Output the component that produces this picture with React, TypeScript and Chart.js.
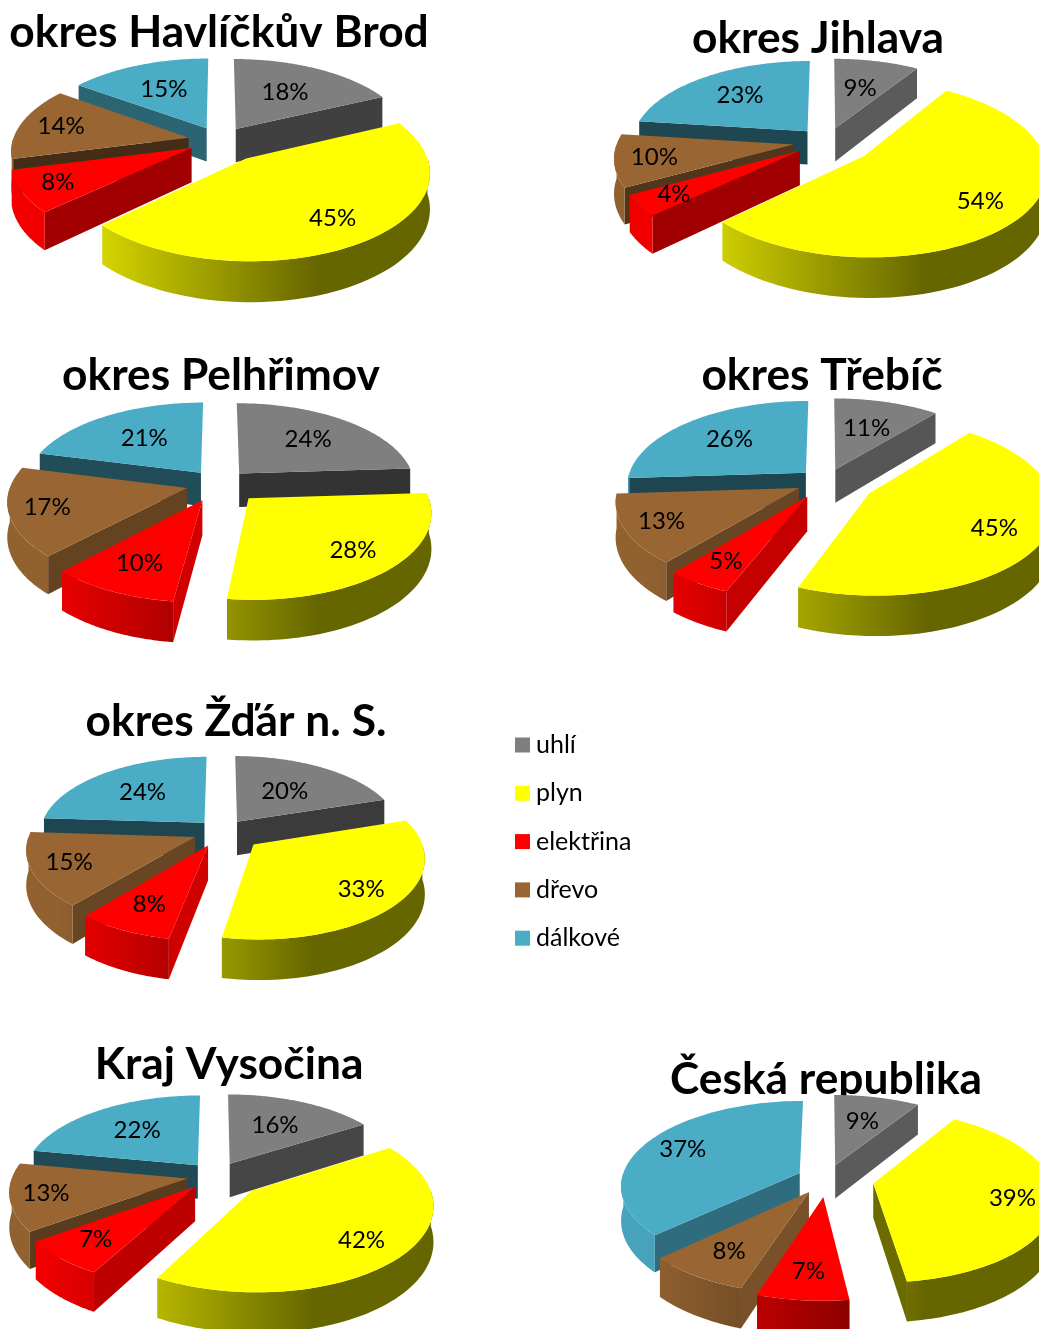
import React, { useEffect, useRef } from "react";
import { Chart, registerables } from "chart.js";

Chart.register(...registerables);

const categories = ["uhlí", "plyn", "elektřina", "dřevo", "dálkové"];
const colors = ["#7f7f7f", "#ffff00", "#ff0000", "#996633", "#4bacc6"];

const havlickuvBrod = [18, 45, 8, 14, 15];
const jihlava = [9, 54, 4, 10, 23];
const pelhrimov = [24, 28, 10, 17, 21];
const trebic = [11, 45, 5, 13, 26];
const zdar = [20, 33, 8, 15, 24];
const vysocina = [16, 42, 7, 13, 22];
const ceskaRepublika = [9, 39, 7, 8, 37];

const TILT = 0.47;
const PERSPECTIVE = 0.14;
const DEPTH = 34;
const FONT = "Lato, 'Open Sans', sans-serif";
const CANVAS = 520;
const TITLE_SIZE = 44.3;

const pies = [
  { title: "okres Havlíčkův Brod", values: havlickuvBrod, offset: [30, 45, 32, 32, 30], reach: [0.58, 0.75, 0.8, 0.76, 0.6], radius: 176, center: [220, 141], titleAt: [219, 33] },
  { title: "okres Jihlava", values: jihlava, offset: [30, 47, 33, 34, 30], reach: [0.57, 0.76, 0.8, 0.78, 0.64], radius: 176, center: [827, 142], titleAt: [818, 39] },
  { title: "okres Pelhřimov", values: pelhrimov, offset: [30, 42, 38, 33, 30], reach: [0.63, 0.76, 0.72, 0.79, 0.58], radius: 176, center: [219, 484], titleAt: [221, 376] },
  { title: "okres Třebíč", values: trebic, offset: [28, 49, 36, 30, 28], reach: [0.58, 0.74, 0.77, 0.8, 0.64], radius: 179, center: [826, 482], titleAt: [822, 376] },
  { title: "okres Žďár n. S.", values: zdar, offset: [26, 41, 32, 29, 26], reach: [0.54, 0.77, 0.72, 0.78, 0.6], radius: 165, center: [222, 832], titleAt: [236, 722] },
  { title: "Kraj Vysočina", values: vysocina, offset: [29, 47, 31, 29, 29], reach: [0.6, 0.76, 0.76, 0.8, 0.6], radius: 175, center: [216, 1176], titleAt: [229, 1065] },
  { title: "Česká republika", values: ceskaRepublika, offset: [30, 47, 38, 33, 30], reach: [0.62, 0.77, 0.75, 0.73, 0.76], radius: 178, center: [827, 1179], titleAt: [826, 1080] },
];

function hexRgb(hex: string) {
  return [1, 3, 5].map((i) => parseInt(hex.slice(i, i + 2), 16));
}
function shade(hex: string, f: number) {
  const [r, g, b] = hexRgb(hex);
  return `rgb(${Math.round(r * f)},${Math.round(g * f)},${Math.round(b * f)})`;
}

const pie3d = {
  id: "pie3d",
  beforeDatasetDraw(chart: any, args: any, opts: any) {
    const { ctx } = chart;
    const [cx, cy] = opts.center;
    const R = opts.radius;
    const arcs = args.meta.data.map((el: any, i: number) => {
      const { startAngle, endAngle, outerRadius } = el;
      const mid = (startAngle + endAngle) / 2;
      const off = el.options.offset;
      return {
        i, startAngle, endAngle, outerRadius, mid,
        ox: Math.cos(mid) * off,
        oy: Math.sin(mid) * off,
        color: el.options.backgroundColor,
      };
    });
    const w = (v: number) => 1 - (PERSPECTIVE * v) / R;
    const top = (u: number, v: number) => [cx + u / w(v), cy + (TILT * v) / w(v)];
    const low = (u: number, v: number) => [cx + u / w(v), cy + (TILT * v + DEPTH) / w(v)];
    const rim = (a: any, ang: number) => [a.ox + a.outerRadius * Math.cos(ang), a.oy + a.outerRadius * Math.sin(ang)];
    const poly = (pts: number[][], fill: any) => {
      ctx.beginPath();
      pts.forEach((p, n) => (n ? ctx.lineTo(p[0], p[1]) : ctx.moveTo(p[0], p[1])));
      ctx.closePath();
      ctx.fillStyle = fill;
      ctx.fill();
    };
    const edgeColor = (a: any, ang: number) => {
      if (a.i === 1) return shade(a.color, 0.42);
      const fromTop = Math.abs(Math.sin(ang));
      return shade(a.color, 0.4 + 0.42 * Math.pow(fromTop, 1.6));
    };
    const order = [...arcs].sort((p: any, q: any) => p.oy + Math.sin(p.mid) * 60 - (q.oy + Math.sin(q.mid) * 60));
    for (const a of order) {
      const apexT = top(a.ox, a.oy);
      const apexL = low(a.ox, a.oy);
      const s = rim(a, a.startAngle);
      const e = rim(a, a.endAngle);
      if (Math.cos(a.startAngle) < 0) {
        poly([apexT, top(s[0], s[1]), low(s[0], s[1]), apexL], edgeColor(a, a.startAngle));
      }
      if (Math.cos(a.endAngle) > 0) {
        poly([apexT, top(e[0], e[1]), low(e[0], e[1]), apexL], edgeColor(a, a.endAngle));
      }
      const from = Math.max(a.startAngle, 0);
      const to = Math.min(a.endAngle, Math.PI);
      if (to > from) {
        const upper: number[][] = [];
        const lower: number[][] = [];
        for (let n = 0; n <= 60; n++) {
          const p = rim(a, from + ((to - from) * n) / 60);
          upper.push(top(p[0], p[1]));
          lower.push(low(p[0], p[1]));
        }
        const g = ctx.createLinearGradient(cx - R, 0, cx + 0.55 * R, 0);
        g.addColorStop(0, shade(a.color, 0.95));
        g.addColorStop(1, shade(a.color, 0.4));
        poly([...upper, ...lower.reverse()], g);
      }
    }
    for (const a of arcs) {
      const pts = [top(a.ox, a.oy)];
      for (let n = 0; n <= 80; n++) {
        const p = rim(a, a.startAngle + ((a.endAngle - a.startAngle) * n) / 80);
        pts.push(top(p[0], p[1]));
      }
      poly(pts, a.color);
    }
    ctx.fillStyle = "#000";
    ctx.font = `24px ${FONT}`;
    ctx.textAlign = "center";
    ctx.textBaseline = "middle";
    for (const a of arcs) {
      const f = opts.reach[a.i] * a.outerRadius;
      const [x, y] = top(a.ox + Math.cos(a.mid) * f, a.oy + Math.sin(a.mid) * f);
      ctx.fillText(`${opts.values[a.i]}%`, x, y);
    }
    return false;
  },
};

const legendRows = {
  id: "legendRows",
  afterDraw(chart: any) {
    const { ctx } = chart;
    const items = Chart.overrides.pie.plugins.legend.labels.generateLabels(chart);
    ctx.font = `25px ${FONT}`;
    ctx.textAlign = "left";
    ctx.textBaseline = "middle";
    items.forEach((it: any, i: number) => {
      const y = 23 + i * 48.3;
      ctx.fillStyle = it.fillStyle;
      ctx.fillRect(10, y - 7.5, 15, 15);
      ctx.fillStyle = "#000";
      ctx.fillText(it.text, 31, y);
    });
  },
};

function Pie({ cfg }: { cfg: (typeof pies)[number] }) {
  const ref = useRef<HTMLCanvasElement>(null);
  const left = cfg.titleAt[0] - CANVAS / 2;
  const top = cfg.titleAt[1] - (TITLE_SIZE * 1.2) / 2;
  useEffect(() => {
    const chart = new Chart(ref.current!, {
      type: "pie",
      data: {
        labels: categories,
        datasets: [{ data: cfg.values, backgroundColor: colors, borderWidth: 0, offset: cfg.offset } as any],
      },
      plugins: [pie3d],
      options: {
        animation: false,
        responsive: false,
        layout: { padding: 0 },
        radius: cfg.radius,
        plugins: {
          legend: { display: false },
          tooltip: { enabled: false },
          title: {
            display: true,
            text: cfg.title,
            color: "#000",
            padding: 0,
            font: { family: FONT, size: TITLE_SIZE, weight: "bold", lineHeight: 1.2 },
          },
          pie3d: {
            center: [cfg.center[0] - left, cfg.center[1] - top],
            radius: cfg.radius,
            reach: cfg.reach,
            values: cfg.values,
          },
        },
      } as any,
    });
    return () => chart.destroy();
  }, []);
  return <canvas ref={ref} width={CANVAS} height={CANVAS} style={{ position: "absolute", left, top, width: CANVAS, height: CANVAS, pointerEvents: "none" }} />;
}

function LegendChart() {
  const ref = useRef<HTMLCanvasElement>(null);
  useEffect(() => {
    const chart = new Chart(ref.current!, {
      type: "pie",
      data: {
        labels: categories,
        datasets: [{ data: [1, 1, 1, 1, 1], backgroundColor: colors, borderWidth: 0 } as any],
      },
      plugins: [legendRows],
      options: {
        animation: false,
        responsive: false,
        radius: 0,
        plugins: { tooltip: { enabled: false }, legend: { display: false } },
      } as any,
    });
    return () => chart.destroy();
  }, []);
  return <canvas ref={ref} width={200} height={250} style={{ position: "absolute", left: 505, top: 722, width: 200, height: 250 }} />;
}

export default function App() {
  return (
    <div style={{ position: "absolute", left: 0, top: 0, width: 1039, height: 1329, overflow: "hidden", background: "#fff" }}>
      {pies.map((p) => (
        <Pie key={p.title} cfg={p} />
      ))}
      <LegendChart />
    </div>
  );
}
